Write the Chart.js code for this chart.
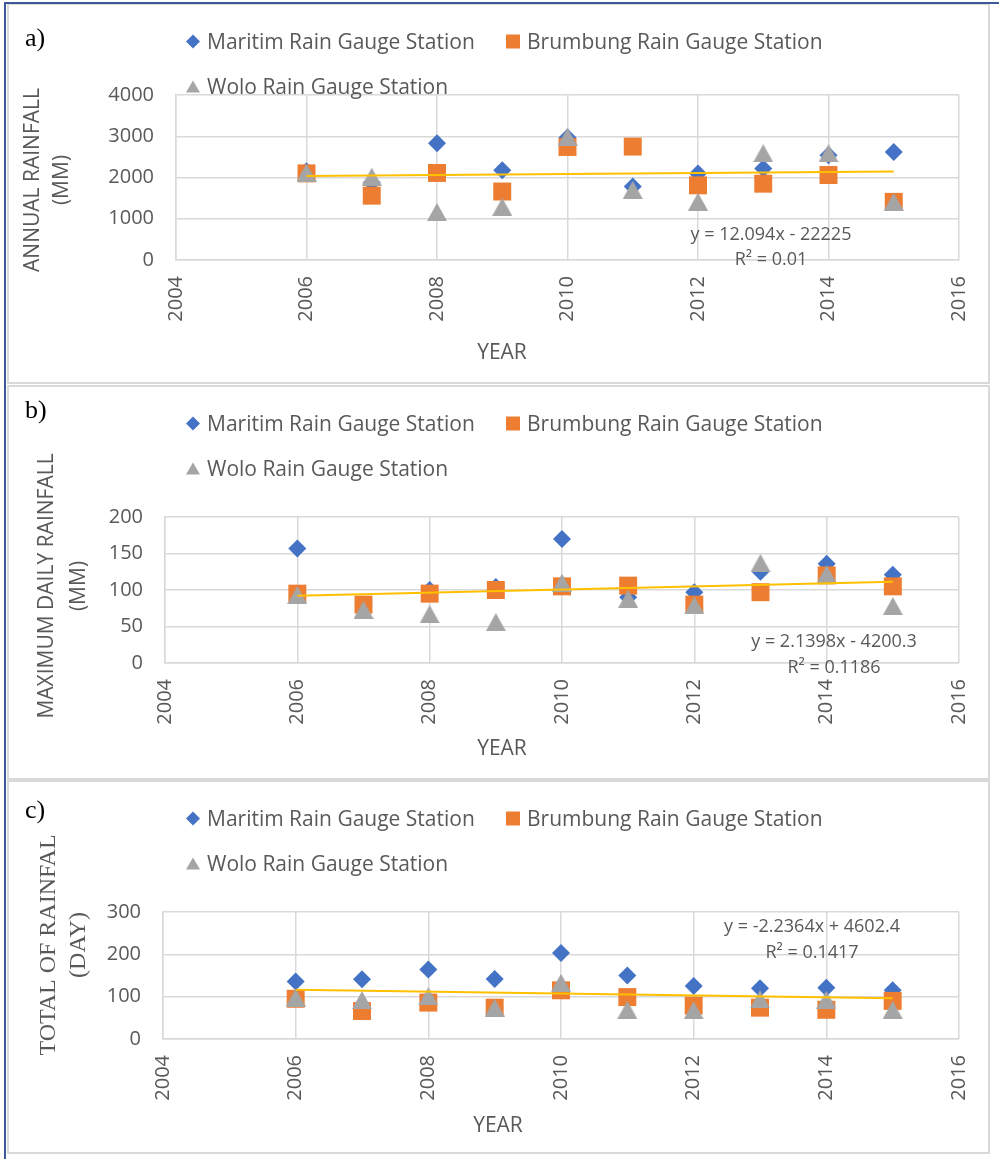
<!DOCTYPE html>
<html>
<head>
<meta charset="utf-8">
<script src="https://cdn.jsdelivr.net/npm/chart.js@4/dist/chart.umd.min.js"></script>
<style>
  body { margin: 0; background: #fff; }
  #page { position: relative; width: 999px; height: 1159px; overflow: hidden; }
  .panel { position: absolute; left: 7px; width: 983px; box-sizing: border-box; border: 2px solid #d9d9d9; }
  canvas { position: absolute; left: 0; }
  .blue { position: absolute; background: #3b5998; }
</style>
</head>
<body>
<div id="page">
  <div class="panel" style="top:3px;height:381px"></div>
  <div class="panel" style="top:385px;height:395px"></div>
  <div class="panel" style="top:780px;height:374px"></div>
  <canvas id="chartA" width="999" height="384" style="top:0"></canvas>
  <canvas id="chartB" width="999" height="396" style="top:384px"></canvas>
  <canvas id="chartC" width="999" height="379" style="top:780px"></canvas>
  <div class="blue" style="left:4px;top:2px;width:995px;height:2px"></div>
  <div class="blue" style="left:4px;top:2px;width:2px;height:1157px"></div>
</div>
<script>
// Data
const years = [2006, 2007, 2008, 2009, 2010, 2011, 2012, 2013, 2014, 2015];
const seriesNames = ['Maritim Rain Gauge Station', 'Brumbung Rain Gauge Station', 'Wolo Rain Gauge Station'];

// a) annual rainfall (mm)
const maritimAnnual = [2150, 1870, 2830, 2175, 2970, 1780, 2100, 2220, 2540, 2620];
const brumbungAnnual = [2100, 1560, 2110, 1660, 2740, 2750, 1810, 1850, 2060, 1410];
const woloAnnual = [2120, 2020, 1165, 1290, 2990, 1700, 1415, 2590, 2590, 1410];
const trendAnnual = [2036, 2144];
const eqAnnual = ['y = 12.094x - 22225', 'R\u00B2 = 0.01'];

// b) maximum daily rainfall (mm)
const maritimMax = [157, 80, 100, 104, 170, 90, 97, 125, 136, 121];
const brumbungMax = [95, 80, 95, 100, 105, 106, 80, 97, 120, 105];
const woloMax = [93, 73, 67, 56, 110, 88, 79, 137, 122, 78];
const trendMax = [92.1, 111.4];
const eqMax = ['y = 2.1398x - 4200.3', 'R\u00B2 = 0.1186'];

// c) total rainfall days
const maritimDays = [136, 141, 164, 142, 203, 150, 125, 120, 121, 115];
const brumbungDays = [95, 66, 86, 74, 115, 99, 79, 74, 69, 90];
const woloDays = [98, 92, 101, 74, 133, 69, 68, 94, 93, 69];
const trendDays = [116.2, 96.1];
const eqDays = ['y = -2.2364x + 4602.4', 'R\u00B2 = 0.1417'];

const trendYears = [2006, 2015];
const xTicks = [2004, 2006, 2008, 2010, 2012, 2014, 2016];

const SANS = '"Open Sans", sans-serif';
const SERIF = '"Liberation Serif", "Times New Roman", serif';
const TEXT = '#595959';
const GRID = '#d9d9d9';
const colors = ['#4472c4', '#ed7d31', '#a5a5a5'];

// Excel style triangle: centred on its bounding box
function triangleImage(w, h, color) {
  const c = document.createElement('canvas');
  c.width = w; c.height = h;
  const g = c.getContext('2d');
  g.fillStyle = color;
  g.beginPath();
  g.moveTo(w / 2, 0); g.lineTo(w, h); g.lineTo(0, h);
  g.closePath();
  g.fill();
  return c;
}

const styles = ['rectRot', 'rect', triangleImage(20, 18, colors[2])];
const radii = [9, 12.7, 10];
const legendStyles = ['rectRot', 'rect', 'triangle'];

function toPoints(xs, ys) {
  return xs.map((x, i) => ({ x: x, y: ys[i] }));
}

function drawMarker(ctx, style, x, y, size, color) {
  const h = size / 2;
  ctx.fillStyle = color;
  ctx.beginPath();
  if (style === 'rectRot') {
    ctx.moveTo(x, y - h); ctx.lineTo(x + h, y); ctx.lineTo(x, y + h); ctx.lineTo(x - h, y);
  } else if (style === 'rect') {
    ctx.rect(x - h, y - h, size, size);
  } else {
    const th = size * 0.86;
    ctx.moveTo(x, y - th / 2); ctx.lineTo(x + h, y + th / 2); ctx.lineTo(x - h, y + th / 2);
  }
  ctx.closePath();
  ctx.fill();
}

function vText(ctx, text, cx, cy, font, capH) {
  ctx.save();
  ctx.translate(cx, cy);
  ctx.rotate(-Math.PI / 2);
  ctx.font = font;
  ctx.textAlign = 'center';
  ctx.textBaseline = 'alphabetic';
  ctx.fillText(text, 0, capH / 2);
  ctx.restore();
}

// draws panel letter, legend, axis titles and trendline equation
const overlayPlugin = {
  id: 'overlay',
  afterDraw(chart, args, o) {
    const ctx = chart.ctx;
    ctx.save();
    ctx.fillStyle = '#000';
    ctx.font = '26px ' + SERIF;
    ctx.textAlign = 'left';
    ctx.textBaseline = 'alphabetic';
    ctx.fillText(o.letter, 25, o.letterY);

    // legend
    const rows = [o.legendY[0], o.legendY[0], o.legendY[1]];
    const mx = [193, 513, 193];
    seriesNames.forEach((name, i) => {
      const base = rows[i];
      drawMarker(ctx, legendStyles[i], mx[i], base - 7.5, 14, colors[i]);
      ctx.fillStyle = TEXT;
      ctx.font = '21px ' + SANS;
      ctx.textAlign = 'left';
      ctx.fillText(name, mx[i] + 14, base);
    });

    // y title
    ctx.fillStyle = TEXT;
    o.yTitle.forEach((line, i) => {
      vText(ctx, line, o.yTitleX[i], o.yTitleY, o.yTitleFont, o.yTitleCap);
    });

    // x title
    ctx.font = '21px ' + SANS;
    ctx.textAlign = 'center';
    ctx.fillText('YEAR', o.xTitleX, o.xTitleY);

    // trendline equation
    ctx.font = '18px ' + SANS;
    o.eq.forEach((line, i) => {
      ctx.fillText(line, o.eqX, o.eqY[i]);
    });
    ctx.restore();
  }
};

function makeChart(id, vals, trend, yMax, yStep, box, overlay) {
  const canvas = document.getElementById(id);
  const datasets = vals.map((v, i) => ({
    type: 'scatter',
    label: seriesNames[i],
    data: toPoints(years, v),
    pointStyle: styles[i],
    pointRadius: radii[i],
    pointHoverRadius: radii[i],
    pointBackgroundColor: colors[i],
    pointBorderWidth: 0,
    showLine: false,
    order: 3 - i
  }));
  datasets.push({
    type: 'line',
    label: 'Trend',
    data: toPoints(trendYears, trend),
    borderColor: '#ffc000',
    borderWidth: 2,
    pointRadius: 0,
    fill: false,
    order: 0
  });

  return new Chart(canvas.getContext('2d'), {
    type: 'scatter',
    data: { datasets: datasets },
    options: {
      responsive: false,
      animation: false,
      devicePixelRatio: 1,
      layout: { padding: { left: 0, right: canvas.width - box.right, top: box.top, bottom: 0 } },
      plugins: {
        legend: { display: false },
        tooltip: { enabled: false },
        overlay: overlay
      },
      scales: {
        x: {
          type: 'linear',
          min: 2004,
          max: 2016,
          afterBuildTicks: (s) => { s.ticks = xTicks.map(v => ({ value: v })); },
          afterFit: (s) => { s.height = canvas.height - box.bottom; },
          grid: { color: GRID, lineWidth: 1.5, drawTicks: false },
          border: { color: GRID, width: 1.5 },
          ticks: {
            color: TEXT,
            font: { family: SANS, size: 20 },
            minRotation: 90,
            maxRotation: 90,
            padding: 16,
            callback: (v) => String(v)
          }
        },
        y: {
          min: 0,
          max: yMax,
          afterFit: (s) => { s.width = box.left; },
          grid: { color: GRID, lineWidth: 1.5, drawTicks: false },
          border: { color: GRID, width: 1.5 },
          ticks: {
            stepSize: yStep,
            color: TEXT,
            font: { family: SANS, size: 20 },
            padding: 22,
            callback: (v) => String(v)
          }
        }
      }
    },
    plugins: [overlayPlugin]
  });
}

makeChart('chartA', [maritimAnnual, brumbungAnnual, woloAnnual], trendAnnual, 4000, 1000,
  { left: 176, right: 961, top: 95, bottom: 260 },
  {
    letter: 'a)', letterY: 46, legendY: [49, 94],
    yTitle: ['ANNUAL RAINFALL', '(MM)'], yTitleX: [31, 60], yTitleY: 180,
    yTitleFont: '21px ' + SANS, yTitleCap: 15,
    xTitleX: 502, xTitleY: 359,
    eq: eqAnnual, eqX: 771, eqY: [240, 265]
  });

makeChart('chartB', [maritimMax, brumbungMax, woloMax], trendMax, 200, 50,
  { left: 165, right: 960, top: 133, bottom: 279 },
  {
    letter: 'b)', letterY: 34, legendY: [47, 92],
    yTitle: ['MAXIMUM DAILY RAINFALL', '(MM)'], yTitleX: [45, 77], yTitleY: 202,
    yTitleFont: '21px ' + SANS, yTitleCap: 15,
    xTitleX: 502, xTitleY: 371,
    eq: eqMax, eqX: 834, eqY: [263, 289]
  });

makeChart('chartC', [maritimDays, brumbungDays, woloDays], trendDays, 300, 100,
  { left: 163, right: 960, top: 132, bottom: 259 },
  {
    letter: 'c)', letterY: 38, legendY: [46, 91],
    yTitle: ['TOTAL OF RAINFAL', '(DAY)'], yTitleX: [47, 77], yTitleY: 165,
    yTitleFont: '24px ' + SERIF, yTitleCap: 16,
    xTitleX: 498, xTitleY: 352,
    eq: eqDays, eqX: 812, eqY: [152, 178]
  });
</script>
</body>
</html>
